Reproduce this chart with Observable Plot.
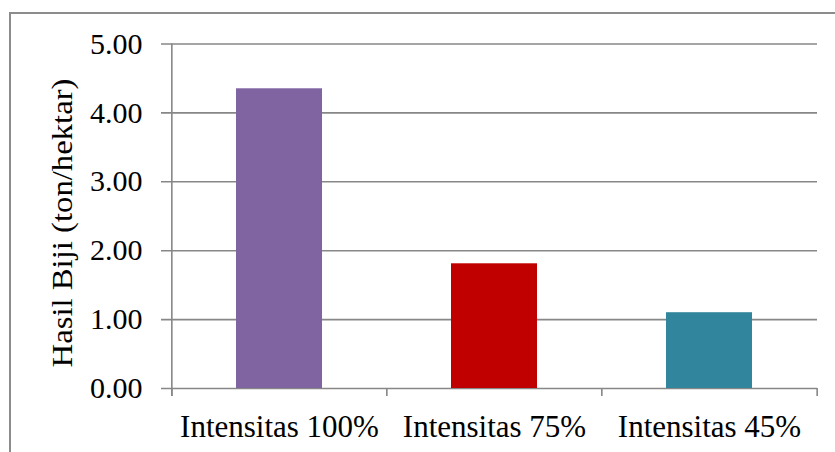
<!DOCTYPE html>
<html>
<head>
<meta charset="utf-8">
<script src="https://cdn.jsdelivr.net/npm/d3@7"></script>
<script src="https://cdn.jsdelivr.net/npm/@observablehq/plot@0.6"></script>
<style>
  html, body { margin: 0; padding: 0; background: #fff; overflow: hidden; }
  #wrap { position: relative; width: 835px; height: 452px; }
  #border { position: absolute; left: 9px; top: 12px; width: 900px; height: 600px; border: 2px solid #8c8c8c; box-sizing: border-box; pointer-events: none; }
  #chart { position: absolute; left: 0; top: 0; }
  #chart svg text { font-family: 'Liberation Serif', 'Times New Roman', serif; }
</style>
</head>
<body>
<div id="wrap"><div id="chart"></div><div id="border"></div></div>
<script>
const categories = ["Intensitas 100%", "Intensitas 75%", "Intensitas 45%"];
const values = [4.35, 1.81, 1.10];
const colors = ["#8064A2", "#C00000", "#31859C"];
const yTicks = [0, 1, 2, 3, 4, 5];
const yLabel = "Hasil Biji (ton/hektar)";

const data = categories.map((c, i) => ({cat: c, value: values[i], color: colors[i]}));

const W = 835, H = 452, ML = 171, MR = 18, MT = 43.5, MB = 64;
const step = (W - ML - MR) / categories.length;
const plotH = H - MT - MB;
const grid = "#878787";
const serif = "'Liberation Serif', 'Times New Roman', serif";

const plot = Plot.plot({
  width: W, height: H,
  marginLeft: ML, marginRight: MR, marginTop: MT, marginBottom: MB,
  style: {fontFamily: serif, fontSize: "30px", color: "#000", background: "transparent"},
  x: {domain: categories, paddingInner: 0.6, paddingOuter: 0.3, label: null, axis: null},
  y: {domain: [0, 5], label: null, axis: null},
  marks: [
    Plot.ruleY(yTicks, {y: d => d, stroke: grid, strokeWidth: 1.6, insetLeft: -10}),
    Plot.barY(data, {x: "cat", y: "value", fill: "color"}),
    Plot.ruleX(categories, {x: d => d, dx: -step / 2, insetTop: plotH, insetBottom: -8, stroke: grid, strokeWidth: 1.6}),
    Plot.ruleX([categories[categories.length - 1]], {x: d => d, dx: step / 2, insetTop: plotH, insetBottom: -8, stroke: grid, strokeWidth: 1.6}),
    Plot.ruleX([categories[0]], {x: d => d, dx: -step / 2, insetBottom: -8, stroke: grid, strokeWidth: 1.6}),
    Plot.axisY(yTicks, {tickFormat: d3.format(".2f"), tickSize: 0, tickPadding: 29, fontSize: 30, fontFamily: serif, label: null}),
    Plot.axisX(categories, {tickSize: 0, tickPadding: 26, fontSize: 31, fontFamily: serif, label: null}),
    Plot.text([yLabel], {frameAnchor: "bottom-left", textAnchor: "start", rotate: -90, dx: -100, dy: -21, fontSize: 30, fontFamily: serif, className: "ylab"})
  ]
});
document.getElementById("chart").appendChild(plot);
d3.select(plot).selectAll(".ylab text").attr("textLength", 289).attr("lengthAdjust", "spacingAndGlyphs");
</script>
</body>
</html>
